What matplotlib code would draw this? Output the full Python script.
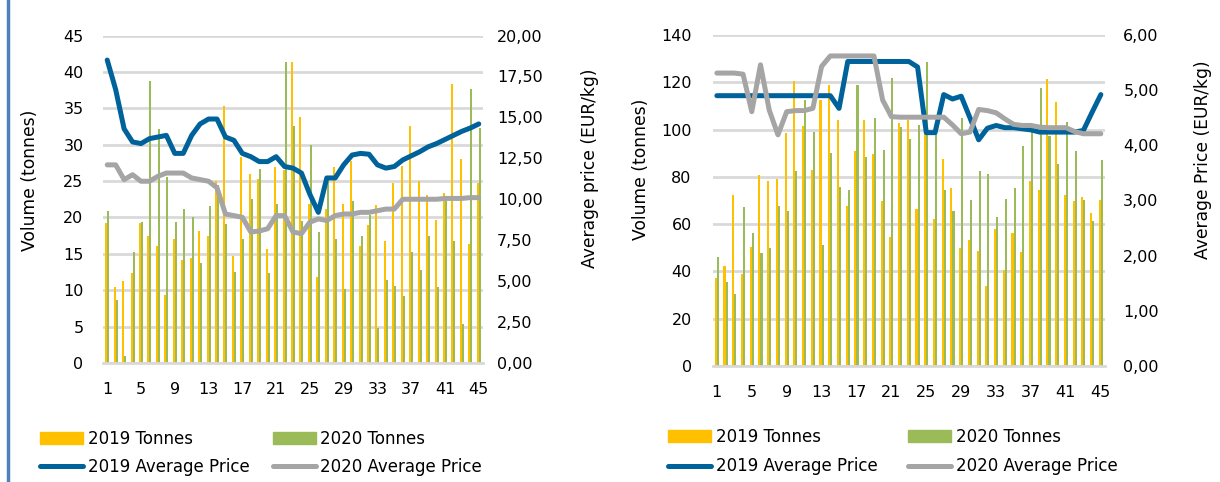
import matplotlib
matplotlib.use("Agg")
import matplotlib.pyplot as plt
from matplotlib.ticker import FuncFormatter
from matplotlib.patches import Patch
from matplotlib.lines import Line2D
import numpy as np

# Data (weeks 1-45)
weeks = list(range(1, 46))
tick_weeks = list(range(1, 46, 4))

# left chart
left_t2019 = [19.2, 10.5, 11.3, 12.4, 19.2, 17.4, 16.1, 9.4, 17.1, 14.1,
              14.4, 18.2, 17.5, 25.0, 35.3, 14.7, 28.3, 26.0, 25.3, 15.7,
              27.0, 26.5, 41.4, 33.8, 21.9, 11.8, 21.2, 26.9, 21.8, 27.7,
              16.1, 19.0, 21.7, 16.8, 24.8, 27.1, 32.5, 25.0, 23.1, 19.6,
              23.3, 38.3, 28.0, 16.4, 24.7]
left_t2020 = [20.9, 8.7, 1.0, 15.3, 19.4, 38.7, 32.2, 25.6, 19.4, 21.1,
              20.1, 13.7, 21.6, 24.5, 19.1, 12.5, 17.0, 22.6, 26.7, 12.3,
              21.8, 41.4, 32.6, 19.5, 30.0, 18.0, 25.5, 17.1, 10.2, 22.3,
              17.4, 20.3, 4.8, 11.4, 10.6, 9.2, 15.3, 12.8, 17.5, 10.4,
              22.3, 16.7, 5.4, 37.6, 32.3]
left_p2019 = [18.5, 16.7, 14.3, 13.5, 13.4, 13.7, 13.8, 13.9, 12.8, 12.8,
              13.9, 14.6, 14.9, 14.9, 13.8, 13.6, 12.8, 12.6, 12.3, 12.3,
              12.6, 12.0, 11.9, 11.6, 10.3, 9.2, 11.3, 11.3, 12.1, 12.7,
              12.8, 12.75, 12.1, 11.9, 12.0, 12.4, 12.65, 12.9, 13.2, 13.4,
              13.65, 13.9, 14.15, 14.35, 14.6]
left_p2020 = [12.1, 12.1, 11.2, 11.5, 11.1, 11.1, 11.4, 11.6, 11.6, 11.6,
              11.3, 11.2, 11.1, 10.7, 9.1, 9.0, 8.9, 8.0, 8.06, 8.2,
              9.0, 9.0, 8.0, 7.9, 8.6, 8.8, 8.7, 9.0, 9.1, 9.1,
              9.2, 9.2, 9.3, 9.4, 9.4, 10.0, 10.0, 10.0, 10.0, 10.0,
              10.05, 10.05, 10.05, 10.1, 10.1]

# right chart
right_t2019 = [37.3, 42.3, 72.3, 38.9, 50.3, 80.7, 78.3, 79.0, 98.5, 120.4,
               101.4, 82.8, 112.5, 118.7, 103.9, 67.6, 91.0, 103.9, 89.7, 69.7,
               54.4, 102.6, 103.9, 66.6, 98.0, 62.3, 87.5, 75.1, 49.8, 53.3,
               48.8, 34.0, 57.8, 40.7, 56.2, 48.3, 78.3, 74.4, 121.5, 111.5,
               72.3, 69.9, 71.5, 64.6, 70.4]
right_t2020 = [46.1, 35.5, 30.4, 67.3, 56.2, 47.7, 49.9, 67.5, 65.5, 82.5,
               112.4, 98.9, 51.1, 90.1, 75.8, 74.6, 118.7, 88.5, 104.8, 91.4,
               122.0, 101.0, 96.0, 102.0, 128.7, 98.0, 74.4, 65.4, 105.0, 70.1,
               82.5, 81.0, 62.9, 70.6, 75.3, 93.2, 99.8, 117.7, 97.2, 85.4,
               103.1, 91.0, 70.1, 61.3, 87.3]
right_p2019 = [4.90, 4.90, 4.90, 4.90, 4.90, 4.90, 4.90, 4.90, 4.90, 4.90,
               4.90, 4.90, 4.90, 4.90, 4.67, 5.52, 5.52, 5.52, 5.52, 5.52,
               5.52, 5.52, 5.52, 5.42, 4.23, 4.23, 4.92, 4.84, 4.89, 4.50,
               4.10, 4.31, 4.36, 4.32, 4.32, 4.30, 4.28, 4.24, 4.24, 4.24,
               4.24, 4.24, 4.27, 4.60, 4.92]
right_p2020 = [5.31, 5.31, 5.31, 5.29, 4.61, 5.46, 4.64, 4.19, 4.61, 4.63,
               4.63, 4.67, 5.43, 5.62, 5.62, 5.62, 5.62, 5.62, 5.62, 4.82,
               4.52, 4.51, 4.51, 4.51, 4.51, 4.51, 4.51, 4.37, 4.21, 4.24,
               4.65, 4.63, 4.59, 4.48, 4.38, 4.36, 4.36, 4.33, 4.32, 4.32,
               4.32, 4.25, 4.21, 4.21, 4.21]

YELLOW = "#FFC000"
GREEN = "#9BBB59"
BLUE = "#00629B"
GRAY = "#A5A5A5"
GRID = "#D9D9D9"

plt.rcParams["font.family"] = ["DejaVu Sans"]

fig = plt.figure(figsize=(12.2, 4.82), dpi=100)


def comma(v, pos):
    return f"{v:.2f}".replace(".", ",")


def draw_chart(rect, t19, t20, p19, p20, vmax, vstep, pmax, pstep, lpad, rpad):
    ax = fig.add_axes(rect)
    x = np.array(weeks)
    ax.bar(x - 0.12, t19, width=0.24, color=YELLOW, lw=0, antialiased=False, zorder=2)
    ax.bar(x + 0.12, t20, width=0.24, color=GREEN, lw=0, antialiased=False, zorder=2)
    ax.set_xlim(0.5, 45.5)
    ax.set_ylim(0, vmax)
    ax.set_yticks(np.arange(0, vmax + 0.1, vstep))
    ax.set_xticks(tick_weeks)
    ax.yaxis.grid(True, color=GRID, lw=2)
    ax.set_axisbelow(True)
    for s in ["top", "left", "right"]:
        ax.spines[s].set_visible(False)
    ax.spines["bottom"].set_color(GRID)
    ax.spines["bottom"].set_linewidth(2)
    ax.tick_params(axis="both", length=0, labelsize=11.5)
    ax.tick_params(axis="x", pad=14)
    ax.tick_params(axis="y", pad=lpad)

    ax2 = ax.twinx()
    ax2.plot(x, p19, color=BLUE, lw=3.6, solid_capstyle="round", zorder=3)
    ax2.plot(x, p20, color=GRAY, lw=3.6, solid_capstyle="round", zorder=3)
    ax2.set_ylim(0, pmax)
    ax2.set_yticks(np.arange(0, pmax + 0.01, pstep))
    ax2.yaxis.set_major_formatter(FuncFormatter(comma))
    for s in ["top", "left", "right", "bottom"]:
        ax2.spines[s].set_visible(False)
    ax2.tick_params(axis="y", length=0, labelsize=11.5, pad=rpad)
    return ax, ax2


draw_chart([103 / 1220, 1 - 363 / 482, 380 / 1220, 327.5 / 482],
           left_t2019, left_t2020, left_p2019, left_p2020,
           45, 5, 20, 2.5, 14, 10)
draw_chart([712.5 / 1220, 1 - 366 / 482, 392.7 / 1220, 331 / 482],
           right_t2019, right_t2020, right_p2019, right_p2020,
           140, 20, 6, 1, 15, 13)

# axis titles
fig.text(30 / 1220, 1 - 180 / 482, "Volume (tonnes)", rotation=90,
         ha="center", va="center", fontsize=12.3)
fig.text(590 / 1220, 1 - 168 / 482, "Average price (EUR/kg)", rotation=90,
         ha="center", va="center", fontsize=12.3)
fig.text(641 / 1220, 1 - 169 / 482, "Volume (tonnes)", rotation=90,
         ha="center", va="center", fontsize=12.3)
fig.text(1203 / 1220, 1 - 160 / 482, "Average Price (EUR/kg)", rotation=90,
         ha="center", va="center", fontsize=12.3)

# legends
handles = [Patch(color=YELLOW), Line2D([], [], color=BLUE, lw=3.6, solid_capstyle="round"),
           Patch(color=GREEN), Line2D([], [], color=GRAY, lw=3.6, solid_capstyle="round")]
labels = ["2019 Tonnes", "2019 Average Price", "2020 Tonnes", "2020 Average Price"]

fig.legend(handles, labels, ncol=2, loc="upper left",
           bbox_to_anchor=(40 / 1220, 1 - 430 / 482), frameon=False,
           fontsize=12, handlelength=2.6, handleheight=0.7, handletextpad=0.25,
           columnspacing=1.4, labelspacing=0.58, borderpad=0, borderaxespad=0)
fig.legend(handles, labels, ncol=2, loc="upper left",
           bbox_to_anchor=(668 / 1220, 1 - 428 / 482), frameon=False,
           fontsize=12, handlelength=2.6, handleheight=0.7, handletextpad=0.25,
           columnspacing=1.85, labelspacing=0.68, borderpad=0, borderaxespad=0)

# frame edge on the left
fig.add_artist(Line2D([8 / 1220, 8 / 1220], [0, 1], color="#4F81BD", lw=2.5,
                      transform=fig.transFigure))

fig.savefig("out.png", dpi=100)
